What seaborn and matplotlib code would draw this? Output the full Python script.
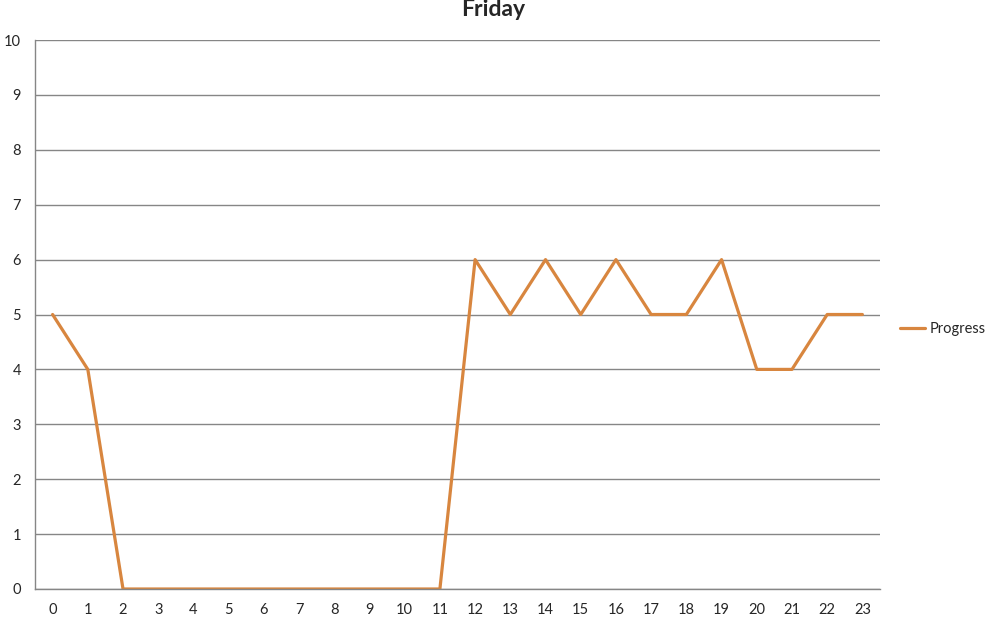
import numpy as np
import pandas as pd
import matplotlib
matplotlib.use('Agg')
import matplotlib.pyplot as plt
import seaborn as sns

# hours of the day and progress values
hours = list(range(24))
progress = [5, 4, 0, 0, 0, 0, 0, 0, 0, 0, 0, 0, 6, 5, 6, 5, 6, 5, 5, 6, 4, 4, 5, 5]
y_ticks = list(range(0, 11))

df = pd.DataFrame({'Hour': hours, 'Progress': progress})

sns.set_style('white')
plt.rcParams['font.family'] = ['Lato', 'DejaVu Sans']

fig = plt.figure(figsize=(9.87, 6.30), dpi=100)
ax = fig.add_axes([35 / 987, 1 - 589 / 630, 845 / 987, 549 / 630])

sns.lineplot(data=df, x='Hour', y='Progress', ax=ax, color='#D8863F', linewidth=2.3,
             label='Progress', legend=False)

ax.set_xlim(-0.5, 23.5)
ax.set_ylim(0, 10)
ax.set_yticks(y_ticks)
ax.set_xticks(hours)
ax.set_xticks(np.arange(-0.5, 24, 1), minor=True)
ax.tick_params(axis='x', which='major', length=0, pad=10, labelsize=10.5)
ax.tick_params(axis='x', which='minor', length=5, width=1, color='#868686', direction='out')
ax.tick_params(axis='y', length=5, width=1, color='#868686', direction='out', pad=5, labelsize=10.5)
ax.yaxis.grid(True, color='#868686', linewidth=1)
ax.set_axisbelow(True)
for side in ['top', 'right']:
    ax.spines[side].set_visible(False)
for side in ['left', 'bottom']:
    ax.spines[side].set_color('#868686')
    ax.spines[side].set_linewidth(1)
ax.set_xlabel('')
ax.set_ylabel('')

fig.text(0.5, 1 - 10 / 630, 'Friday', ha='center', va='center', fontsize=16.5, fontweight='bold')
handles, labels = ax.get_legend_handles_labels()
fig.legend(handles, labels, loc='center left', bbox_to_anchor=(900 / 987, 1 - 329 / 630),
           frameon=False, fontsize=10.5, handlelength=1.7, handletextpad=0.3, borderaxespad=0,
           borderpad=0)

fig.savefig('out.png', dpi=100)
